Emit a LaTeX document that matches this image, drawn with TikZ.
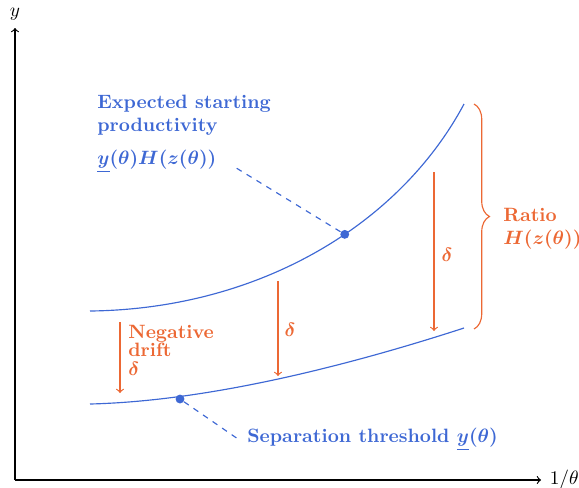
\documentclass[tikz,border=0pt]{standalone}
\usepackage{amsmath}
\usepackage{amssymb}
\usepackage{tikz}
\usetikzlibrary{positioning}
\usetikzlibrary{decorations.pathreplacing}
\definecolor{curveblue}{RGB}{62,104,212}
\definecolor{driftorange}{RGB}{236,104,52}

\begin{document}
\begin{tikzpicture}[
        x=0.518pt, y=-0.518pt,
        every node/.style={font=\normalsize},
        axis/.style={->, black, semithick},
        curve/.style={curveblue, semithick},
        dot/.style={circle, fill=curveblue, inner sep=0pt, minimum size=4.6pt},
        guide/.style={curveblue, dashed, semithick},
        drift/.style={->, driftorange, semithick},
        bluelabel/.style={curveblue, font=\bfseries\boldmath, align=left, inner sep=0pt},
        orangelabel/.style={driftorange, font=\bfseries\boldmath, align=left, inner sep=0pt}
    ]
        \useasboundingbox (0,0) rectangle (579,487);

        % Axes
        \coordinate (origin) at (15,480);
        \coordinate (ytop) at (15,28);
        \coordinate (xend) at (541,480);
        \draw[axis] (origin) -- (ytop);
        \draw[axis] (origin) -- (xend);
        \node (ylab) at (15,14) {$y$};
        \node[right=1pt of xend] (xlab) {$1/\theta$};

        % Curves, with the upper point on the first one
        \draw[curve] (90,311) .. controls (260,309) and (400,224) .. (464,104)
            node[dot, pos=0.575] (updot) {};
        \draw[curve] (90,404) .. controls (210,401) and (350,365) .. (464,328);

        % Upper point label
        \coordinate (uptip) at (233,166);
        \node[bluelabel, anchor=north west] (uplab) at (97,95)
            {Expected starting\\productivity\\[5pt]$\underline{y}(\theta)H(z(\theta))$};
        \draw[guide] (updot) -- (uptip);

        % Lower point and label
        \node[dot] (lowdot) at (180,399) {};
        \coordinate (lowtip) at (238,439);
        \node[bluelabel, anchor=west] (lowlab) at (247,439) {Separation threshold $\underline{y}(\theta)$};
        \draw[guide] (lowdot) -- (lowtip);

        % Drift arrows
        \coordinate (d1a) at (120,322);
        \coordinate (d1b) at (120,393);
        \coordinate (d2a) at (278,281);
        \coordinate (d2b) at (278,376);
        \coordinate (d3a) at (434,172);
        \coordinate (d3b) at (434,331);
        \draw[drift] (d1a) -- (d1b);
        \draw[drift] (d2a) -- (d2b);
        \draw[drift] (d3a) -- (d3b);
        \node[orangelabel, anchor=north west] (driftlab) at (128,325)
            {Negative\\[-2.5pt]drift\\[-2.5pt]$\delta$};
        \node[orangelabel] (d2lab) at (290,330) {$\delta$};
        \node[orangelabel] (d3lab) at (447,255) {$\delta$};

        % Ratio brace
        \coordinate (btop) at (474,104);
        \coordinate (bbot) at (474,329);
        \draw[driftorange, semithick, decorate, decoration={brace, amplitude=8pt}] (btop) -- (bbot);
        \node[orangelabel, anchor=west] (ratiolab) at (503,229) {Ratio\\$H(z(\theta))$};
    \end{tikzpicture}
\end{document}
